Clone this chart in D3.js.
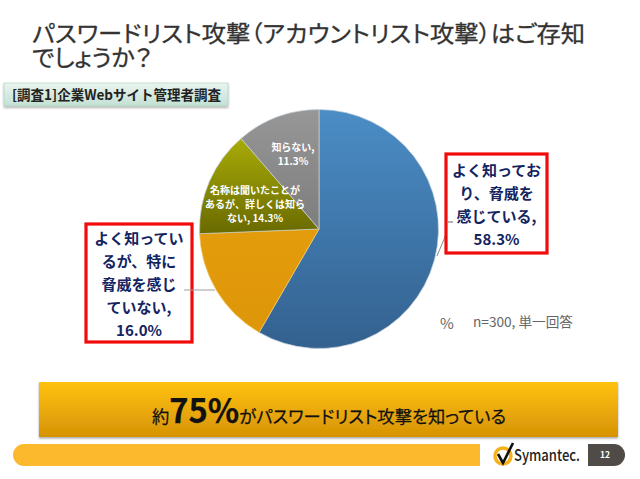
<!DOCTYPE html>
<html>
<head>
<meta charset="utf-8">
<script src="https://cdn.jsdelivr.net/npm/d3@7"></script>
<style>
html, body { margin: 0; padding: 0; background: #fff; }
svg { display: block; }
text { font-family: "Noto Sans CJK JP", "Noto Sans", sans-serif; }
.palt { font-feature-settings: "palt"; }
</style>
</head>
<body>
<div id="chart"></div>
<script>
var categories = ['よく知っており、脅威を感じている', 'よく知っているが、特に脅威を感じていない', '名称は聞いたことがあるが、詳しくは知らない', '知らない'];
var values = [58.3, 16.0, 14.3, 11.3];
var topColors = ['#4b8dc6', '#e39c0b', '#a9ab08', '#979797'];
var bottomColors = ['#33618f', '#de960a', '#696a00', '#7d7d7d'];

var titleLines = ['パスワードリスト攻撃（アカウントリスト攻撃）はご存知', 'でしょうか？'];
var titleWidths = [553, 120];
var badgeText = '[調査1]企業Webサイト管理者調査';
var noteText = 'n=300, 単一回答';

var width = 640, height = 479;
var cx = 319, cy = 229, radius = 119.5;

var svg = d3.select('#chart').append('svg')
  .attr('width', width)
  .attr('height', height)
  .attr('viewBox', '0 0 ' + width + ' ' + height);

var defs = svg.append('defs');

function addGradient(id, c1, c2) {
  var g = defs.append('linearGradient').attr('id', id)
    .attr('x1', 0).attr('y1', 0).attr('x2', 0).attr('y2', 1);
  g.append('stop').attr('offset', '0%').attr('stop-color', c1);
  g.append('stop').attr('offset', '100%').attr('stop-color', c2);
}

values.forEach(function(v, i) {
  addGradient('slice' + i, topColors[i], bottomColors[i]);
});
addGradient('badgeFill', '#eaf5f0', '#c3e0d3');
addGradient('bannerFill', '#ffc20e', '#d69305');

var shadow = defs.append('filter').attr('id', 'shadow')
  .attr('x', '-5%').attr('y', '-5%').attr('width', '110%').attr('height', '120%');
shadow.append('feDropShadow').attr('dx', 0).attr('dy', 1.5)
  .attr('stdDeviation', 1.2).attr('flood-color', '#000').attr('flood-opacity', 0.35);

// title, one text with two lines, tight pitch like the slide
svg.append('text')
  .attr('class', 'palt')
  .attr('font-size', 23)
  .attr('fill', '#333').attr('stroke', '#333').attr('stroke-width', 0.3)
  .selectAll('tspan')
  .data(titleLines)
  .enter().append('tspan')
  .attr('x', 32)
  .attr('y', function(d, i) { return 42 + i * 24; })
  .attr('textLength', function(d, i) { return titleWidths[i]; })
  .attr('lengthAdjust', 'spacingAndGlyphs')
  .text(function(d) { return d; });

// badge
svg.append('rect')
  .attr('x', 4).attr('y', 83).attr('width', 224).attr('height', 23)
  .attr('fill', 'url(#badgeFill)')
  .attr('stroke', '#a9cdbd').attr('stroke-width', 0.6)
  .attr('filter', 'url(#shadow)');
svg.append('text')
  .attr('x', 12).attr('y', 100)
  .attr('font-size', 14).attr('font-weight', 700)
  .attr('textLength', 209)
  .attr('lengthAdjust', 'spacingAndGlyphs')
  .attr('fill', '#222')
  .text(badgeText);

// pie
var pie = d3.pie().sort(null).value(function(d) { return d; });
var arc = d3.arc().innerRadius(0).outerRadius(radius);

var chartG = svg.append('g').attr('transform', 'translate(' + cx + ',' + cy + ')');

chartG.selectAll('path.slice')
  .data(pie(values))
  .enter().append('path')
  .attr('class', 'slice')
  .attr('d', arc)
  .attr('fill', function(d, i) { return 'url(#slice' + i + ')'; })
  .attr('stroke', function(d, i) { return i === 1 ? '#f4c860' : '#c9d6de'; })
  .attr('stroke-width', 0.7);

function fmt(v) { return v.toFixed(1) + '%'; }

// multi-line label as a single text element
function multiLine(lines, x, startY, lineH, size, color) {
  svg.append('text')
    .attr('text-anchor', 'middle')
    .attr('font-size', size).attr('font-weight', 700)
    .attr('fill', color)
    .selectAll('tspan')
    .data(lines)
    .enter().append('tspan')
    .attr('x', x)
    .attr('y', function(d, i) { return startY + i * lineH; })
    .text(function(d) { return d; });
}

// diagonal leader goes behind the box
svg.append('line')
  .attr('x1', 437).attr('y1', 256).attr('x2', 447).attr('y2', 232)
  .attr('stroke', '#8a8a8a').attr('stroke-width', 1);

// callouts
function callout(x, y, w, h, lines, startY, lineH) {
  svg.append('rect')
    .attr('x', x).attr('y', y).attr('width', w).attr('height', h)
    .attr('fill', '#fff')
    .attr('stroke', '#f00a0a').attr('stroke-width', 3.2);
  multiLine(lines, x + w / 2, startY, lineH, 15, '#14245f');
}

callout(446, 154, 101, 99, ['よく知ってお', 'り、脅威を', '感じている,', fmt(values[0])], 176, 23);
callout(86, 224, 106, 118, ['よく知ってい', 'るが、特に', '脅威を感じ', 'ていない,', fmt(values[1])], 244, 23);

// leader stubs sit on top of the boxes
svg.append('line')
  .attr('x1', 448).attr('y1', 222).attr('x2', 453).attr('y2', 222)
  .attr('stroke', '#666').attr('stroke-width', 1);
svg.append('line')
  .attr('x1', 184).attr('y1', 290).attr('x2', 215).attr('y2', 290)
  .attr('stroke', '#a0a0a0').attr('stroke-width', 1);

// labels inside the pie
multiLine(['名称は聞いたことが', 'あるが、詳しくは知ら', 'ない, ' + fmt(values[2])], 255, 194, 14, 10, '#fff');
multiLine(['知らない,', fmt(values[3])], 293, 151, 14, 10, '#fff');

// note
svg.append('text')
  .attr('x', 440).attr('y', 329)
  .attr('font-size', 15).attr('fill', '#666')
  .text('%');
svg.append('text')
  .attr('x', 473).attr('y', 327)
  .attr('font-size', 13.5).attr('fill', '#666')
  .attr('textLength', 100)
  .attr('lengthAdjust', 'spacingAndGlyphs')
  .text(noteText);

// banner
svg.append('rect')
  .attr('x', 39).attr('y', 382).attr('width', 579).attr('height', 55)
  .attr('fill', 'url(#bannerFill)')
  .attr('filter', 'url(#shadow)');
var banner = svg.append('text')
  .attr('class', 'palt')
  .attr('x', 152).attr('y', 423)
  .attr('textLength', 354)
  .attr('lengthAdjust', 'spacingAndGlyphs')
  .attr('font-size', 17.5).attr('fill', '#111')
  .attr('stroke', '#111').attr('stroke-width', 0.25);
banner.append('tspan').text('約');
banner.append('tspan').attr('font-size', 33).attr('font-weight', 700).text('75%');
banner.append('tspan').text('がパスワードリスト攻撃を知っている');

// footer bar
svg.append('path')
  .attr('d', 'M24,444 H480 V466 H24 a11,11 0 0 1 0,-22 Z')
  .attr('fill', '#fdb92e');

// logo
var logo = svg.append('g');
logo.append('circle').attr('cx', 503).attr('cy', 456).attr('r', 8)
  .attr('fill', 'none').attr('stroke', '#f5b21a').attr('stroke-width', 3.5);
logo.append('polyline').attr('points', '498,454 503,463 513,443')
  .attr('fill', 'none').attr('stroke', '#111').attr('stroke-width', 2.6);
svg.append('text')
  .attr('x', 514).attr('y', 461)
  .attr('font-size', 16).attr('font-weight', 500)
  .attr('textLength', 66)
  .attr('lengthAdjust', 'spacingAndGlyphs')
  .attr('fill', '#222')
  .text('Symantec.');

// page number
svg.append('path')
  .attr('d', 'M588,444 H614 a11,11 0 0 1 0,22 H588 Z')
  .attr('fill', '#514b47');
svg.append('text')
  .attr('x', 605).attr('y', 458)
  .attr('text-anchor', 'middle')
  .attr('font-size', 8.5).attr('font-weight', 700)
  .attr('font-family', 'Liberation Serif')
  .attr('fill', '#fff')
  .text('12');
</script>
</body>
</html>
